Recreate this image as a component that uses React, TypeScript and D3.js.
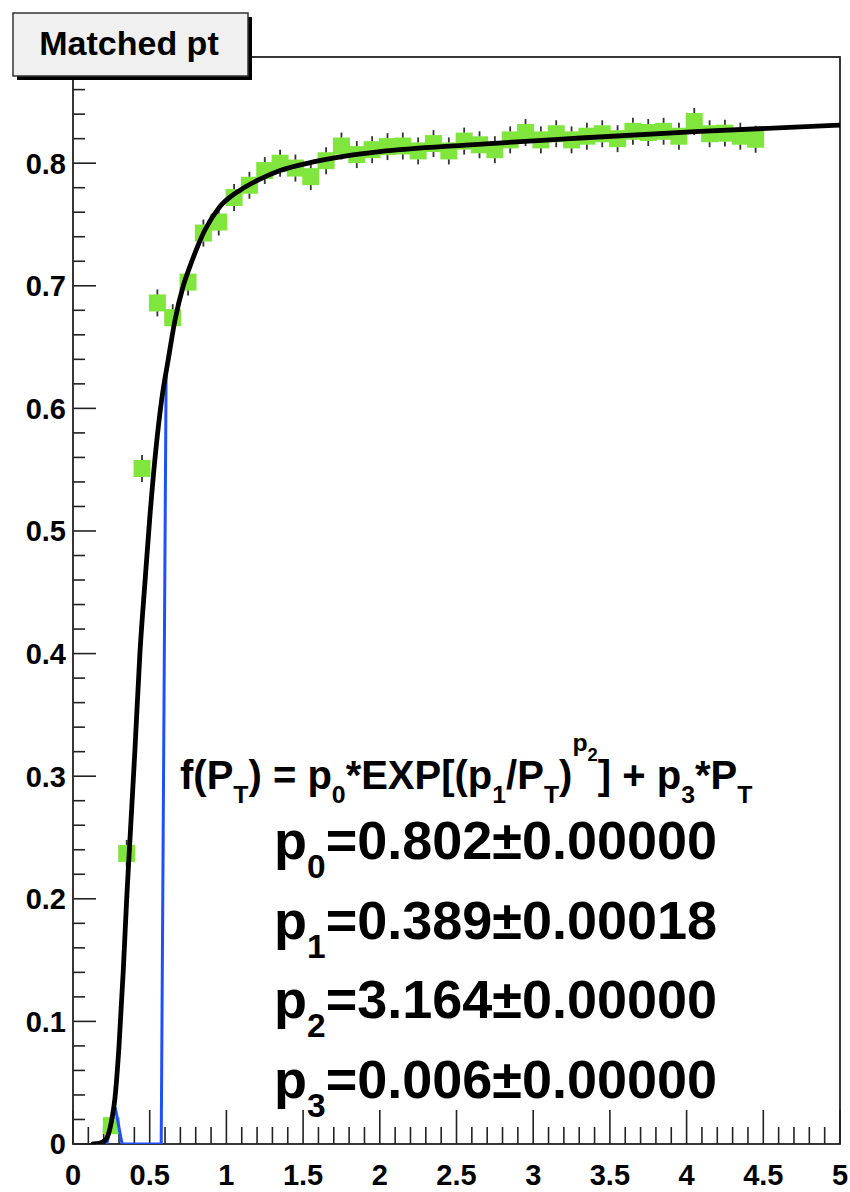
import React from "react";
import * as d3 from "d3";

// ---- data ----
const binCenters = [0.25, 0.35, 0.45, 0.55, 0.65, 0.75, 0.85, 0.95, 1.05, 1.15, 1.25, 1.35, 1.45, 1.55, 1.65, 1.75, 1.85, 1.95, 2.05, 2.15, 2.25, 2.35, 2.45, 2.55, 2.65, 2.75, 2.85, 2.95, 3.05, 3.15, 3.25, 3.35, 3.45, 3.55, 3.65, 3.75, 3.85, 3.95, 4.05, 4.15, 4.25, 4.35, 4.45];
const efficiency = [0.015, 0.237, 0.551, 0.686, 0.674, 0.703, 0.743, 0.752, 0.772, 0.782, 0.794, 0.8, 0.796, 0.789, 0.802, 0.814, 0.807, 0.811, 0.8135, 0.814, 0.81, 0.816, 0.81, 0.818, 0.815, 0.811, 0.819, 0.825, 0.819, 0.824, 0.819, 0.822, 0.824, 0.82, 0.826, 0.825, 0.826, 0.822, 0.834, 0.824, 0.8245, 0.822, 0.8195];
const effError = [0.005, 0.011, 0.011, 0.011, 0.011, 0.011, 0.011, 0.011, 0.011, 0.011, 0.011, 0.011, 0.011, 0.011, 0.011, 0.011, 0.011, 0.011, 0.011, 0.011, 0.011, 0.011, 0.011, 0.011, 0.011, 0.011, 0.011, 0.011, 0.011, 0.011, 0.011, 0.011, 0.011, 0.011, 0.011, 0.011, 0.011, 0.011, 0.011, 0.011, 0.011, 0.011, 0.011];

// fitted curve (black)
const fitX = [0.13, 0.17, 0.21, 0.25, 0.274, 0.3, 0.328, 0.35, 0.372, 0.404, 0.437, 0.469, 0.5, 0.54, 0.578, 0.621, 0.665, 0.719, 0.763, 0.86, 0.958, 1.089, 1.219, 1.35, 1.567, 1.784, 2.0, 2.588, 3.24, 4.087, 5.0];
const fitY = [0.0, 0.0005, 0.003, 0.018, 0.038, 0.08, 0.142, 0.2, 0.25, 0.322, 0.402, 0.458, 0.51, 0.566, 0.607, 0.64, 0.672, 0.7, 0.716, 0.7455, 0.7646, 0.778, 0.787, 0.794, 0.801, 0.806, 0.8095, 0.815, 0.82, 0.826, 0.831];

// coarse function line (blue)
const blueX = [0.22, 0.275, 0.32, 0.575, 0.607, 0.621, 0.665, 0.719, 0.763, 0.86, 0.958, 1.089, 1.219, 1.35, 1.567, 1.784, 2.0, 2.588, 3.24, 4.087, 5.0];
const blueY = [0.0, 0.03, 0.0, 0.0, 0.628, 0.64, 0.672, 0.7, 0.716, 0.7455, 0.7646, 0.778, 0.787, 0.794, 0.801, 0.806, 0.8095, 0.815, 0.82, 0.826, 0.831];

const xTickLabels = ["0", "0.5", "1", "1.5", "2", "2.5", "3", "3.5", "4", "4.5", "5"];
const yTickLabels = ["0", "0.1", "0.2", "0.3", "0.4", "0.5", "0.6", "0.7", "0.8"];

const titleText = "Matched pt";
const paramNames = ["0", "1", "2", "3"];
const paramValues = ["0.802", "0.389", "3.164", "0.006"];
const paramErrors = ["0.00000", "0.00018", "0.00000", "0.00000"];

const FONT = "'Liberation Sans', Arial, Helvetica, sans-serif";

type Seg = { t: string; s: "n" | "sub" | "sup" | "supsub" };

function Latex({ x, y, size, segs }: { x: number; y: number; size: number; segs: Seg[] }) {
  const shift = { n: 0, sub: size * 0.36, sup: -size * 0.95, supsub: -size * 0.7 };
  const fs = { n: size, sub: size * 0.62, sup: size * 0.62, supsub: size * 0.46 };
  let cur = 0;
  return (
    <text x={x} y={y} fontFamily={FONT} fontWeight="bold" fontSize={size} style={{ whiteSpace: "pre" }} fill="#000">
      {segs.map((sg, i) => {
        const dy = shift[sg.s] - cur;
        cur = shift[sg.s];
        return (
          <tspan key={i} dy={dy} fontSize={fs[sg.s]}>
            {sg.t}
          </tspan>
        );
      })}
    </text>
  );
}

export default function App() {
  const W = 850;
  const H = 1192;
  const left = 73, right = 840, top = 57, bottom = 1144;
  const x = d3.scaleLinear().domain([0, 5]).range([left, right]);
  const y = d3.scaleLinear().domain([0, 0.8866]).range([bottom, top]);

  const xMinor = d3.range(0, 51).map((i) => i / 10);
  const yMinor = d3.range(0, 45).map((i) => i * 0.02).filter((v) => v <= 0.8866);

  const fitLine = d3
    .line<number>()
    .x((_, i) => x(fitX[i]))
    .y((d) => y(d))
    .curve(d3.curveMonotoneX);
  const blueLine = d3
    .line<number>()
    .x((_, i) => x(blueX[i]))
    .y((d) => y(d));

  const half = 8.5;
  const formula: Seg[] = [
    { t: "f(P", s: "n" },
    { t: "T", s: "sub" },
    { t: ") = p", s: "n" },
    { t: "0", s: "sub" },
    { t: "*EXP[(p", s: "n" },
    { t: "1", s: "sub" },
    { t: "/P", s: "n" },
    { t: "T", s: "sub" },
    { t: ")", s: "n" },
    { t: "p", s: "sup" },
    { t: "2", s: "supsub" },
    { t: "] + p", s: "n" },
    { t: "3", s: "sub" },
    { t: "*P", s: "n" },
    { t: "T", s: "sub" },
  ];

  return (
    <svg width={W} height={H} style={{ position: "absolute", left: 0, top: 0 }}>
      <rect x={0} y={0} width={W} height={H} fill="#fff" />
      <defs>
        <clipPath id="frame">
          <rect x={left} y={top} width={right - left} height={bottom - top} />
        </clipPath>
      </defs>

      {/* frame */}
      <rect x={left} y={top} width={right - left} height={bottom - top} fill="none" stroke="#222" strokeWidth={1.8} />

      {/* y ticks */}
      {yMinor.map((v, i) => {
        const major = Math.abs(v * 10 - Math.round(v * 10)) < 1e-6;
        return <line key={"yt" + i} x1={left} x2={left + (major ? 23 : 12)} y1={y(v)} y2={y(v)} stroke="#222" strokeWidth={1.6} />;
      })}
      {/* x ticks */}
      {xMinor.map((v, i) => {
        const major = i % 5 === 0;
        return <line key={"xt" + i} x1={x(v)} x2={x(v)} y1={bottom} y2={bottom - (major ? 34 : 17)} stroke="#222" strokeWidth={1.6} />;
      })}

      {/* tick labels */}
      {yTickLabels.map((t, i) => (
        <text key={"yl" + i} x={66} y={y(+t)} dy="0.36em" textAnchor="end" fontFamily={FONT} fontWeight="bold" fontSize={29} fill="#000">
          {t}
        </text>
      ))}
      {xTickLabels.map((t, i) => (
        <text key={"xl" + i} x={x(+t)} y={1185} textAnchor="middle" fontFamily={FONT} fontWeight="bold" fontSize={29} fill="#000">
          {t}
        </text>
      ))}

      <g clipPath="url(#frame)">
        {/* markers */}
        {efficiency.map((v, i) => (
          <rect key={"m" + i} x={x(binCenters[i]) - half} y={y(v) - half} width={half * 2} height={half * 2} fill="#80e63e" />
        ))}
        {/* error bars */}
        {efficiency.map((v, i) => {
          const cy = y(v);
          const up = y(v + effError[i]);
          const dn = y(v - effError[i]);
          const cx = x(binCenters[i]);
          if (cy - up <= half) return null;
          return (
            <g key={"e" + i} stroke="#333" strokeWidth={1.8}>
              <line x1={cx} x2={cx} y1={up} y2={cy - half} />
              <line x1={cx} x2={cx} y1={cy + half} y2={dn} />
            </g>
          );
        })}
        <path d={blueLine(blueY) || ""} fill="none" stroke="#1f50ff" strokeWidth={3} strokeLinejoin="miter" />
        <path d={fitLine(fitY) || ""} fill="none" stroke="#000" strokeWidth={4.8} strokeLinecap="round" />
      </g>

      {/* formula */}
      <Latex x={180} y={789} size={40} segs={formula} />
      {paramNames.map((n, i) => (
        <Latex
          key={"p" + i}
          x={274}
          y={859 + i * 79.5}
          size={54}
          segs={[
            { t: "p", s: "n" },
            { t: n, s: "sub" },
            { t: "=" + paramValues[i] + "\u00b1" + paramErrors[i], s: "n" },
          ]}
        />
      ))}

      {/* title box */}
      <rect x={17} y={17} width={235} height={63} fill="#000" />
      <rect x={13} y={13} width={235} height={63} fill="#f0f0f0" stroke="#333" strokeWidth={1.5} />
      <text x={129} y={55} textAnchor="middle" fontFamily={FONT} fontWeight="bold" fontSize={34} fill="#000">
        {titleText}
      </text>
    </svg>
  );
}
